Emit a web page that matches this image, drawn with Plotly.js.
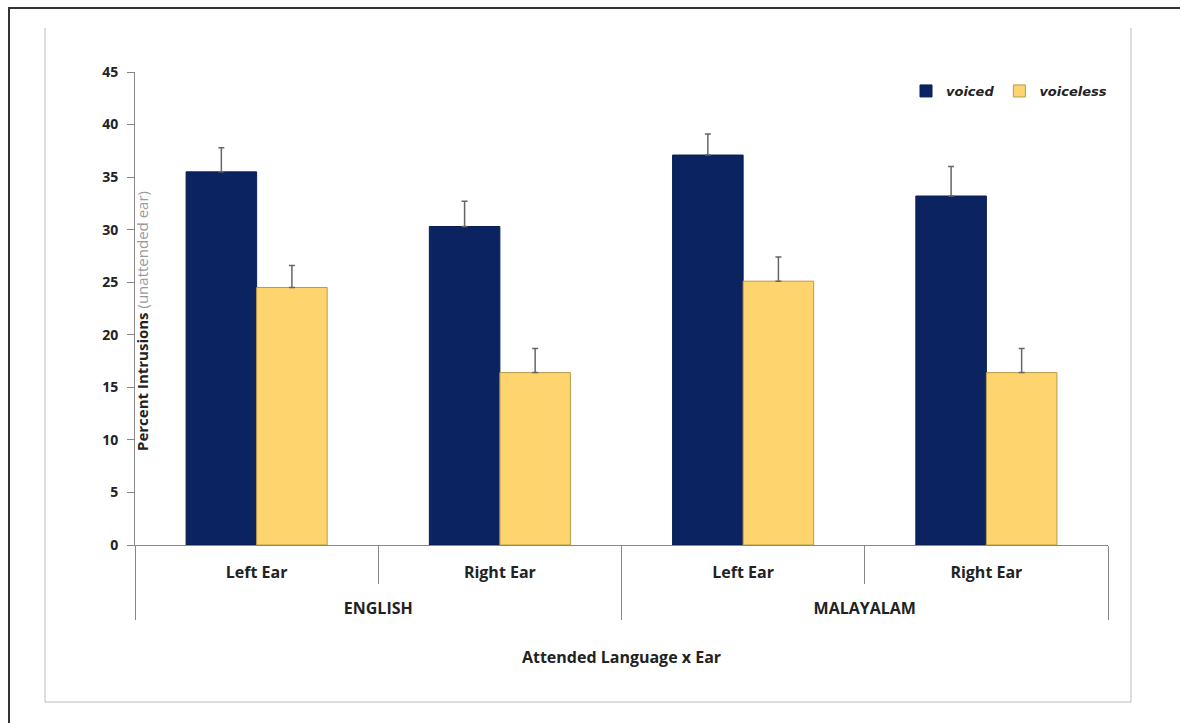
<!DOCTYPE html>
<html><head><meta charset="utf-8">
<script src="https://cdn.plot.ly/plotly-3.0.1.min.js"></script>
<style>body{margin:0;background:#fff}#chart{width:1180px;height:723px}</style>
</head><body><div id="chart"></div>
<script>
const languages = ["ENGLISH","ENGLISH","MALAYALAM","MALAYALAM"];
const ears = ["Left Ear","Right Ear","Left Ear","Right Ear"];
const voiced = [35.5, 30.3, 37.1, 33.2];
const voicedErr = [2.3, 2.4, 2.0, 2.8];
const voiceless = [24.5, 16.4, 25.1, 16.4];
const voicelessErr = [2.1, 2.3, 2.3, 2.3];
const yTicks = [0,5,10,15,20,25,30,35,40,45];

const L = 135, R = 72, T = 72, B = 178, W = 1180, H = 723;
const pw = W - L - R, ph = H - T - B;
const px = x => (x - L) / pw;
const py = y => (H - B - y) / ph;

const font = "'Open Sans', Lato, sans-serif";
// inner labels get a blank second line so the outer level sits lower (spacing only)
const earLabels = ears.map(e => e + "<br><span style='font-size:31px'> </span>");

const traces = [
  {type:"bar", name:"voiced", x:[languages, earLabels], y:voiced,
   marker:{color:"#0b2461", line:{color:"#0a1f50", width:1}},
   error_y:{type:"data", array:voicedErr, symmetric:false, arrayminus:[0,0,0,0], color:"#666", thickness:1.5, width:3}},
  {type:"bar", name:"voiceless", x:[languages, earLabels], y:voiceless,
   marker:{color:"#fdd46e", line:{color:"#b89a4a", width:1}},
   error_y:{type:"data", array:voicelessErr, symmetric:false, arrayminus:[0,0,0,0], color:"#666", thickness:1.5, width:3}}
];

const layout = {
  width: W, height: H,
  margin: {l:L, r:R, t:T, b:B},
  paper_bgcolor:"#fff", plot_bgcolor:"#fff",
  font: {family: font, color:"#222"},
  bargap: 0.42, bargroupgap: 0,
  barmode: "group",
  showlegend: true,
  legend: {orientation:"h", x:px(1112), xanchor:"right", y:py(91), yanchor:"middle",
    font:{family:"'DejaVu Sans', sans-serif", size:13, style:"italic", weight:"bold", color:"#222"},
    itemwidth:30, bgcolor:"rgba(0,0,0,0)"},
  xaxis: {
    type:"multicategory",
    range:[-0.5, 3.5],
    showline:true, linecolor:"#888", linewidth:1,
    ticks:"outside", tickson:"boundaries", ticklen:38, tickcolor:"#888", tickwidth:1,
    ticklabelstandoff: 13,
    showdividers:true, dividercolor:"#888", dividerwidth:1,
    tickfont:{size:16, weight:"bold", color:"#222"},
    title:{text:"Attended Language x Ear", font:{size:16, weight:"bold", color:"#222"}, standoff:33},
    showgrid:false, zeroline:false
  },
  yaxis: {
    range:[0,45], tickvals:yTicks, ticktext:yTicks.map(String),
    showline:true, linecolor:"#888", linewidth:1,
    ticks:"outside", ticklen:7, tickcolor:"#888",
    ticklabelstandoff: 6,
    tickfont:{size:14, weight:"bold", color:"#222"},
    showgrid:false, zeroline:false
  },
  annotations: [
    {xref:"paper", yref:"paper", x:0, y:py(321), xshift:7, textangle:-90, showarrow:false,
     xanchor:"center", yanchor:"middle",
     text:"<b>Percent Intrusions</b> <span style='color:#999'>(unattended ear)</span>",
     font:{size:15, color:"#222"}}
  ],
  shapes: [
    {type:"line", xref:"paper", yref:"paper", x0:px(45), x1:px(45), y0:py(28), y1:py(702), line:{color:"#bbb", width:1}},
    {type:"line", xref:"paper", yref:"paper", x0:px(45), x1:px(1131), y0:py(702), y1:py(702), line:{color:"#bbb", width:1}},
    {type:"line", xref:"paper", yref:"paper", x0:px(1131), x1:px(1131), y0:py(28), y1:py(702), line:{color:"#bbb", width:1}},
    {type:"line", xref:"paper", yref:"paper", x0:px(8), x1:px(1180), y0:py(8), y1:py(8), line:{color:"#333", width:2}},
    {type:"line", xref:"paper", yref:"paper", x0:px(9), x1:px(9), y0:py(8), y1:py(723), line:{color:"#333", width:2}}
  ]
};

Plotly.newPlot("chart", traces, layout, {displayModeBar:false, staticPlot:true});
</script>
</body></html>
